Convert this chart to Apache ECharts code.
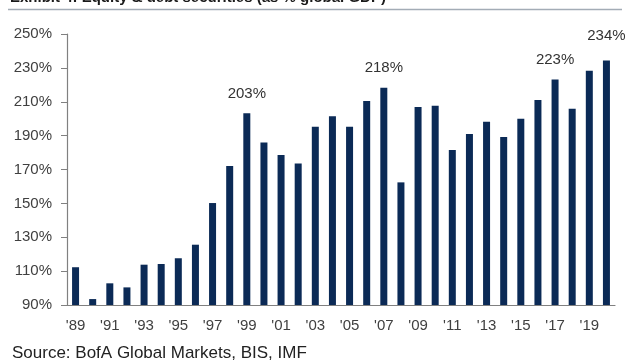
<!DOCTYPE html>
<html>
<head>
<meta charset="utf-8">
<script src="https://cdn.jsdelivr.net/npm/echarts@6/dist/echarts.min.js"></script>
<style>html,body{margin:0;padding:0;background:#fff}#c{width:640px;height:360px}</style>
</head>
<body>
<div id="c"></div>
<script>
const years = ["'89","'90","'91","'92","'93","'94","'95","'96","'97","'98","'99","'00","'01","'02","'03","'04","'05","'06","'07","'08","'09","'10","'11","'12","'13","'14","'15","'16","'17","'18","'19","'20"];
const values = [112.3,93.5,102.8,100.4,113.8,114.2,117.6,125.6,150.2,172.0,203.2,186.0,178.5,173.6,195.3,201.4,195.3,210.4,218.3,162.4,206.9,207.7,181.5,190.9,198.2,189.2,200.0,211.0,223.2,205.9,228.3,234.3];
const labelled = ["'99","'07","'17","'20"];
const yTicks = [90,110,130,150,170,190,210,230,250];

const FONT = 'Liberation Sans, Arial, sans-serif';
const chart = echarts.init(document.getElementById('c'), null, {renderer:'canvas'});
chart.setOption({
  animation:false,
  grid:{left:67,right:25,top:34,bottom:55,containLabel:false},
  graphic:[
    {type:'text',left:10,top:-10,style:{text:'Exhibit 4: Equity & debt securities (as % global GDP)',font:'bold 15px '+FONT,fill:'#1a1a1a'}},
    {type:'line',shape:{x1:8,y1:9.5,x2:622,y2:9.5},style:{stroke:'#a3acb6',lineWidth:1.5}},
    {type:'text',left:12,top:345,style:{text:'Source: BofA Global Markets, BIS, IMF',font:'17px '+FONT,fill:'#222'}}
  ],
  xAxis:{
    type:'category',data:years,
    axisLine:{lineStyle:{color:'#808080',width:1.2}},
    axisTick:{show:false},
    axisLabel:{interval:1,color:'#404040',fontSize:15,fontFamily:FONT,margin:13}
  },
  yAxis:{
    type:'value',min:yTicks[0],max:yTicks[yTicks.length-1],interval:20,
    splitLine:{show:false},
    axisLine:{show:true,lineStyle:{color:'#808080',width:1.2}},
    axisTick:{show:true,length:6,lineStyle:{color:'#808080'}},
    axisLabel:{color:'#404040',fontSize:15,fontFamily:FONT,margin:15,formatter:v=>v+'%'}
  },
  series:[{
    type:'bar',barWidth:7,
    itemStyle:{color:'#0b2a56'},
    data:values.map((v,i)=>{
      const o={value:v};
      if(labelled.includes(years[i])){
        o.label={show:true,position:'top',distance:(years[i]==="'20")?17:12,formatter:p=>Math.round(p.value)+'%',color:'#333',fontSize:15,fontFamily:FONT};
      }
      return o;
    })
  }]
});
</script>
</body>
</html>
